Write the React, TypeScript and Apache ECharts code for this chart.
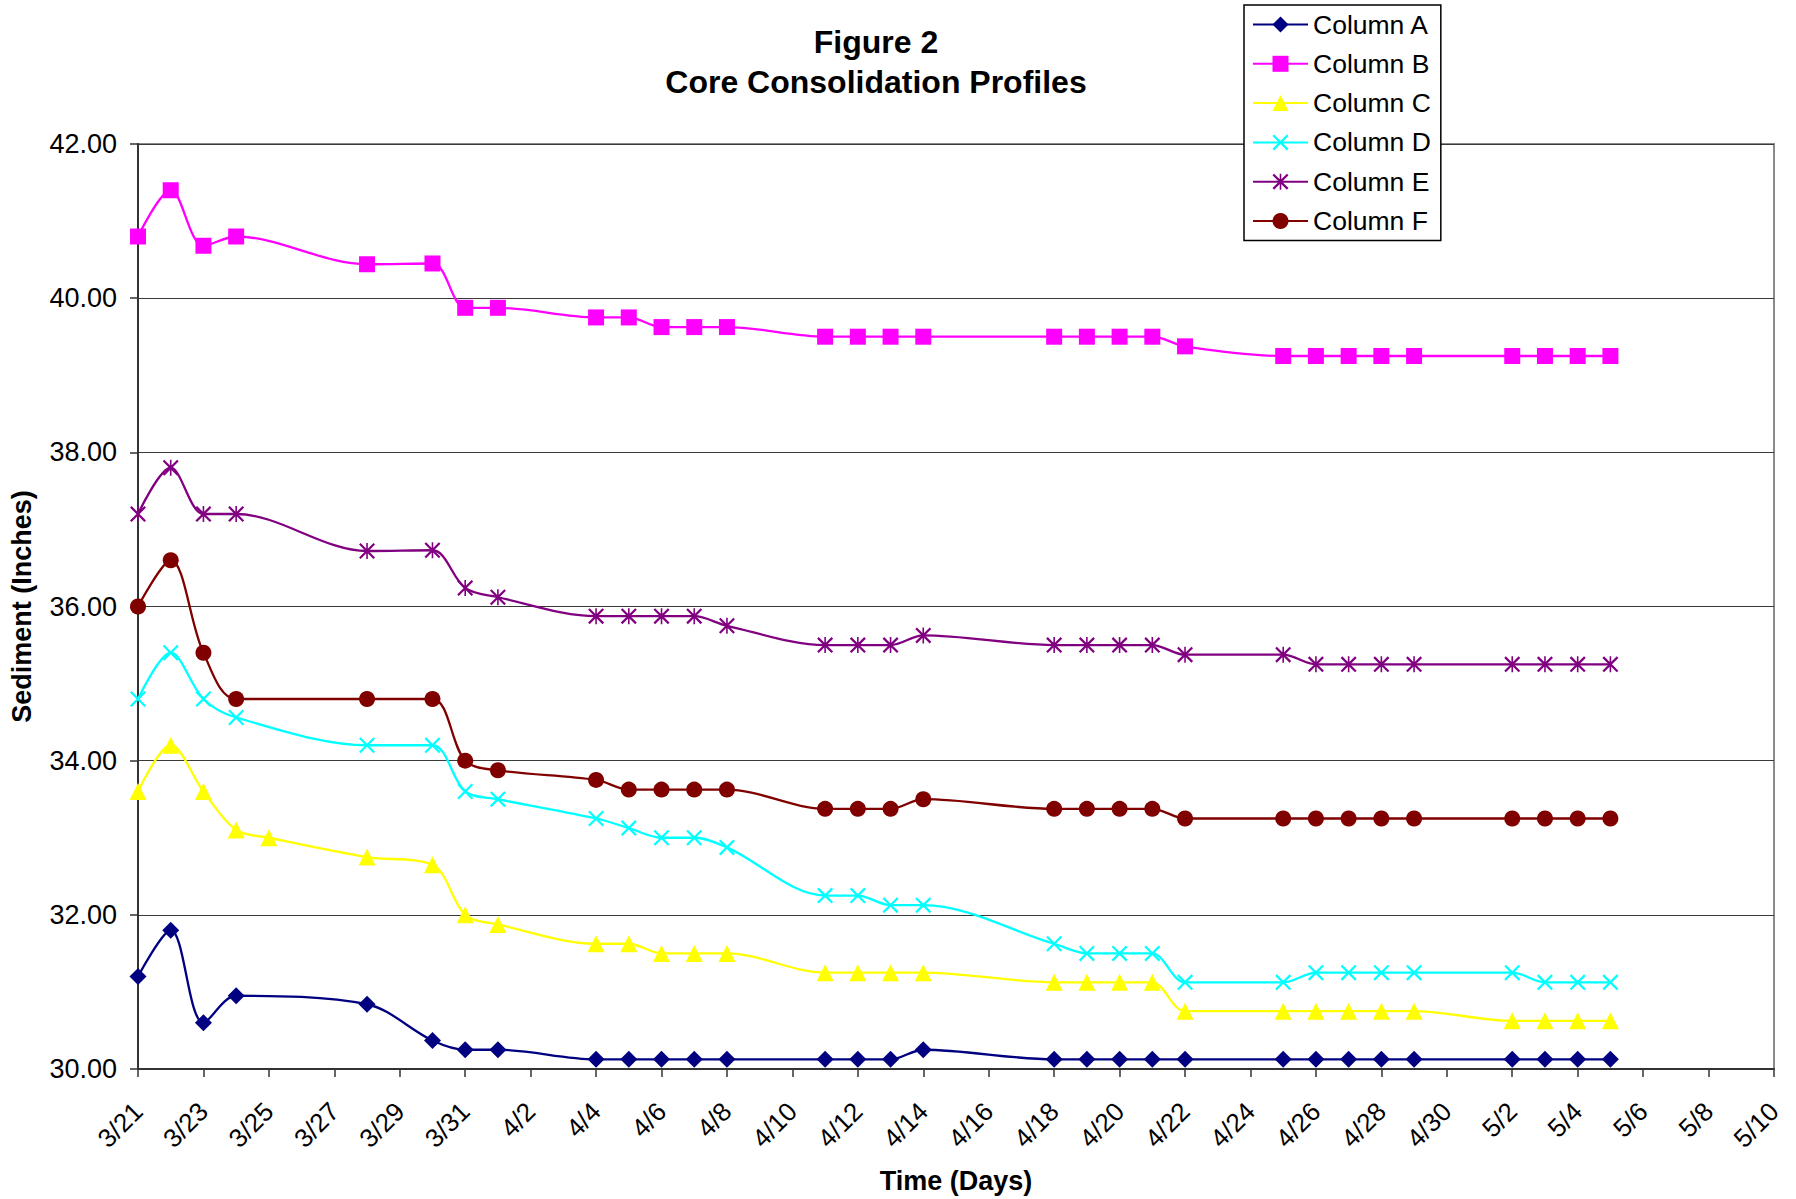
import React, { useEffect, useRef } from "react";
import * as echarts from "echarts";

// Sampling dates shared by columns A, B, D, E and F
const sampleDates = [
  "3/21", "3/22", "3/23", "3/24", "3/28", "3/30", "3/31", "4/1",
  "4/4", "4/5", "4/6", "4/7", "4/8",
  "4/11", "4/12", "4/13", "4/14",
  "4/18", "4/19", "4/20", "4/21", "4/22",
  "4/25", "4/26", "4/27", "4/28", "4/29",
  "5/2", "5/3", "5/4", "5/5",
];

// Column C was also read on 3/25
const sampleDatesC = [
  "3/21", "3/22", "3/23", "3/24", "3/25", "3/28", "3/30", "3/31", "4/1",
  "4/4", "4/5", "4/6", "4/7", "4/8",
  "4/11", "4/12", "4/13", "4/14",
  "4/18", "4/19", "4/20", "4/21", "4/22",
  "4/25", "4/26", "4/27", "4/28", "4/29",
  "5/2", "5/3", "5/4", "5/5",
];

// Sediment heights in inches
const columnA = [
  31.2, 31.8, 30.6, 30.95, 30.84, 30.37, 30.25, 30.25,
  30.125, 30.125, 30.125, 30.125, 30.125,
  30.125, 30.125, 30.125, 30.25,
  30.125, 30.125, 30.125, 30.125, 30.125,
  30.125, 30.125, 30.125, 30.125, 30.125,
  30.125, 30.125, 30.125, 30.125,
];
const columnB = [
  40.8, 41.4, 40.68, 40.8, 40.44, 40.45, 39.875, 39.875,
  39.75, 39.75, 39.625, 39.625, 39.625,
  39.5, 39.5, 39.5, 39.5,
  39.5, 39.5, 39.5, 39.5, 39.375,
  39.25, 39.25, 39.25, 39.25, 39.25,
  39.25, 39.25, 39.25, 39.25,
];
const columnC = [
  33.6, 34.2, 33.6, 33.1, 33.0, 32.75, 32.65, 32.0, 31.875,
  31.625, 31.625, 31.5, 31.5, 31.5,
  31.25, 31.25, 31.25, 31.25,
  31.125, 31.125, 31.125, 31.125, 30.75,
  30.75, 30.75, 30.75, 30.75, 30.75,
  30.625, 30.625, 30.625, 30.625,
];
const columnD = [
  34.8, 35.4, 34.8, 34.56, 34.2, 34.2, 33.6, 33.5,
  33.25, 33.125, 33.0, 33.0, 32.875,
  32.25, 32.25, 32.125, 32.125,
  31.625, 31.5, 31.5, 31.5, 31.125,
  31.125, 31.25, 31.25, 31.25, 31.25,
  31.25, 31.125, 31.125, 31.125,
];
const columnE = [
  37.2, 37.8, 37.2, 37.2, 36.72, 36.73, 36.24, 36.12,
  35.875, 35.875, 35.875, 35.875, 35.75,
  35.5, 35.5, 35.5, 35.625,
  35.5, 35.5, 35.5, 35.5, 35.375,
  35.375, 35.25, 35.25, 35.25, 35.25,
  35.25, 35.25, 35.25, 35.25,
];
const columnF = [
  36.0, 36.6, 35.4, 34.8, 34.8, 34.8, 34.0, 33.875,
  33.75, 33.625, 33.625, 33.625, 33.625,
  33.375, 33.375, 33.375, 33.5,
  33.375, 33.375, 33.375, 33.375, 33.25,
  33.25, 33.25, 33.25, 33.25, 33.25,
  33.25, 33.25, 33.25, 33.25,
];

const seriesNames = ["Column A", "Column B", "Column C", "Column D", "Column E", "Column F"];

// Axis ranges: days since the first reading, and inches
const START_MONTH = 3;
const START_DAY = 21;
const DAY_MIN = 0;
const DAY_MAX = 50;
const DAY_STEP = 2;
const INCH_MIN = 30;
const INCH_MAX = 42;
const INCH_STEP = 2;

const DAY_MS = 86400000;
const startUtc = Date.UTC(2001, START_MONTH - 1, START_DAY);

function dayIndex(label: string): number {
  const [m, d] = label.split("/").map(Number);
  return Math.round((Date.UTC(2001, m - 1, d) - startUtc) / DAY_MS);
}

function dayLabel(i: number): string {
  const dt = new Date(startUtc + i * DAY_MS);
  return `${dt.getUTCMonth() + 1}/${dt.getUTCDate()}`;
}

function pairs(dates: string[], values: number[]): number[][] {
  return dates.map((d, i) => [dayIndex(d), values[i]]);
}

// Outline markers built as filled shapes
const CROSS =
  "path://M0,10 L10,0 L100,90 L90,100 Z M90,0 L100,10 L10,100 L0,90 Z";
const ASTERISK =
  "path://M0,10 L10,0 L100,90 L90,100 Z M90,0 L100,10 L10,100 L0,90 Z M45,0 L55,0 L55,100 L45,100 Z";

const FONT = "'Liberation Sans', Arial, Helvetica, sans-serif";

export default function App() {
  const ref = useRef<HTMLDivElement>(null);

  useEffect(() => {
    if (!ref.current) return;
    const chart = echarts.init(ref.current, undefined, { renderer: "svg" });

    const makeSeries = (
      name: string,
      dates: string[],
      values: number[],
      color: string,
      symbol: string,
      symbolSize: number
    ) => ({
      name,
      type: "line",
      data: pairs(dates, values),
      smooth: 0.33,
      symbol,
      symbolSize,
      showAllSymbol: true,
      lineStyle: { color, width: 2.3 },
      itemStyle: { color, borderWidth: 0 },
      emphasis: { disabled: true },
    });

    chart.setOption({
      animation: false,
      backgroundColor: "#ffffff",
      textStyle: { fontFamily: FONT },
      grid: {
        left: 126,
        right: 22,
        top: 144,
        bottom: 130,
        show: true,
        borderColor: "#8a8a8a",
        borderWidth: 2,
        backgroundColor: "transparent",
      },
      graphic: [
        {
          type: "text",
          x: 876,
          y: 42,
          style: {
            text: "Figure 2",
            font: `bold 32px ${FONT}`,
            fill: "#000",
            textAlign: "center",
            textVerticalAlign: "middle",
          },
        },
        {
          type: "text",
          x: 876,
          y: 82,
          style: {
            text: "Core Consolidation Profiles",
            font: `bold 32px ${FONT}`,
            fill: "#000",
            textAlign: "center",
            textVerticalAlign: "middle",
          },
        },
      ],
      legend: {
        orient: "vertical",
        left: 1244,
        top: 5,
        padding: [6, 10, 6, 8],
        itemWidth: 55,
        itemHeight: 20,
        itemGap: 12.3,
        backgroundColor: "#ffffff",
        borderColor: "#000",
        borderWidth: 1.5,
        selectedMode: false,
        data: seriesNames,
        textStyle: {
          fontFamily: FONT,
          fontSize: 26.5,
          lineHeight: 24,
          color: "#000",
        },
      },
      xAxis: {
        type: "value",
        min: DAY_MIN,
        max: DAY_MAX,
        interval: DAY_STEP,
        name: "Time (Days)",
        nameLocation: "middle",
        nameGap: 98,
        nameTextStyle: { fontFamily: FONT, fontSize: 27, fontWeight: "bold", color: "#000" },
        axisLine: { show: true, lineStyle: { color: "#333", width: 2 } },
        axisTick: { show: true, inside: false, length: 8, lineStyle: { color: "#333", width: 1.5 } },
        splitLine: { show: false },
        axisLabel: {
          rotate: 45,
          margin: 38,
          fontFamily: FONT,
          fontSize: 26,
          color: "#000",
          formatter: (v: number) => dayLabel(v),
        },
      },
      yAxis: {
        type: "value",
        min: INCH_MIN,
        max: INCH_MAX,
        interval: INCH_STEP,
        name: "Sediment (Inches)",
        nameLocation: "middle",
        nameGap: 103,
        nameTextStyle: { fontFamily: FONT, fontSize: 27, fontWeight: "bold", color: "#000" },
        axisLine: { show: true, lineStyle: { color: "#333", width: 2 } },
        axisTick: { show: true, inside: false, length: 8, lineStyle: { color: "#333", width: 1.5 } },
        splitLine: { show: true, lineStyle: { color: "#3a3a3a", width: 1.2 } },
        axisLabel: {
          margin: 21,
          fontFamily: FONT,
          fontSize: 27,
          color: "#000",
          formatter: (v: number) => v.toFixed(2),
        },
      },
      series: [
        makeSeries(seriesNames[0], sampleDates, columnA, "#000080", "diamond", 17),
        makeSeries(seriesNames[1], sampleDates, columnB, "#ff00ff", "rect", 16),
        makeSeries(seriesNames[2], sampleDatesC, columnC, "#ffff00", "triangle", 17),
        makeSeries(seriesNames[3], sampleDates, columnD, "#00ffff", CROSS, 16),
        makeSeries(seriesNames[4], sampleDates, columnE, "#800080", ASTERISK, 16),
        makeSeries(seriesNames[5], sampleDates, columnF, "#800000", "circle", 16),
      ],
    });

    return () => chart.dispose();
  }, []);

  return (
    <div
      ref={ref}
      style={{ position: "fixed", left: 0, top: 0, width: 1796, height: 1199, background: "#fff" }}
    />
  );
}
